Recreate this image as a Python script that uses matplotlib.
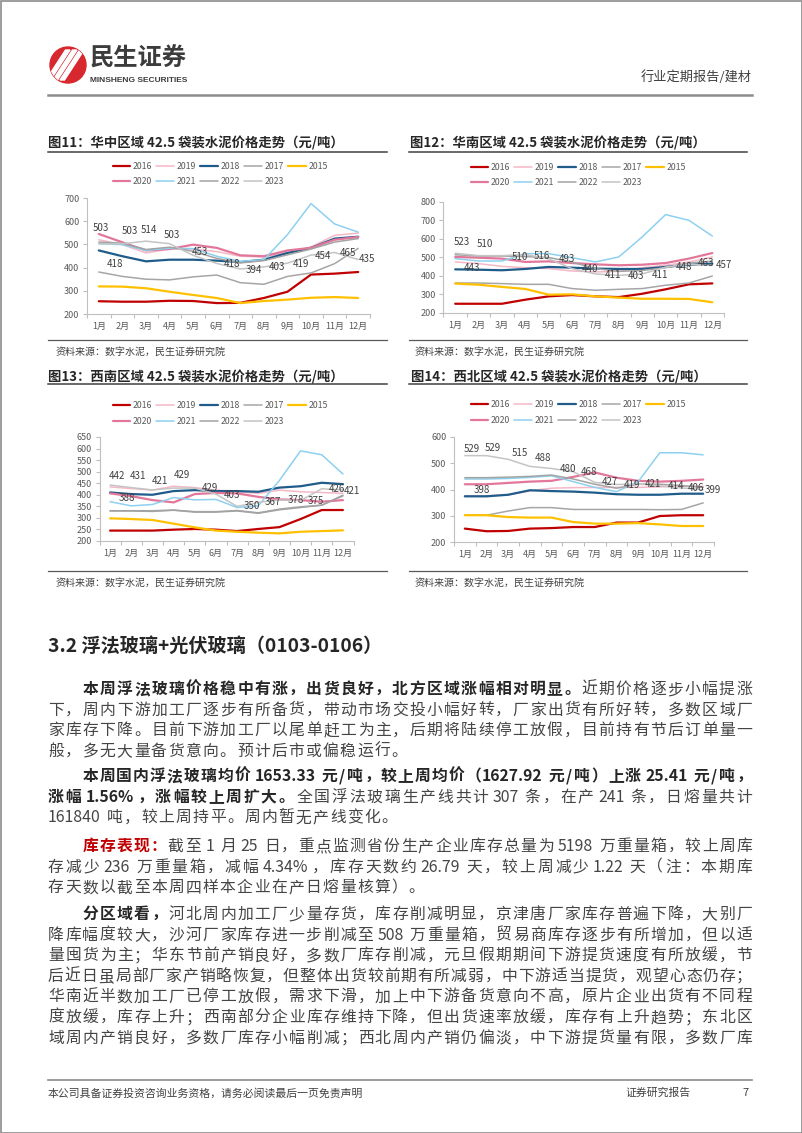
import matplotlib
matplotlib.use("Agg")
import matplotlib.pyplot as plt
from matplotlib.patches import Circle, Polygon, Rectangle

plt.rcParams['font.family'] = ['Noto Sans CJK SC', 'DejaVu Sans']

W, H = 802, 1133

months = [str(i) + '月' for i in range(1, 13)]
x = list(range(1, 13))
years = ['2016', '2019', '2018', '2017', '2015', '2020', '2021', '2022', '2023']
legend_order = ['2016', '2020', '2019', '2021', '2018', '2022', '2017', '2023', '2015']
colors = {'2016': '#C00000', '2019': '#F5B8C7', '2018': '#1F5C8A', '2017': '#A6A6A6',
          '2015': '#FFC000', '2020': '#E2779A', '2021': '#8ED0F0', '2022': '#A3A3A3',
          '2023': '#C4C4C4'}
widths = {'2016': 1.6, '2019': 1.1, '2018': 1.6, '2017': 1.1, '2015': 1.6,
          '2020': 1.6, '2021': 1.1, '2022': 1.1, '2023': 1.1}

# 华中
hz_2016 = [255, 253, 253, 257, 256, 247, 248, 269, 296, 370, 374, 381]
hz_2019 = [520, 499, 463, 480, 480, 469, 449, 446, 466, 489, 539, 549]
hz_2018 = [474, 449, 427, 434, 434, 430, 424, 434, 463, 485, 525, 533]
hz_2017 = [381, 362, 350, 347, 360, 368, 335, 328, 362, 377, 417, 483]
hz_2015 = [319, 318, 311, 296, 282, 269, 247, 256, 262, 270, 273, 269]
hz_2020 = [545, 509, 474, 480, 499, 485, 453, 449, 474, 485, 520, 532]
hz_2021 = [503, 499, 474, 483, 482, 449, 427, 434, 542, 676, 588, 553]
hz_2022 = [510, 505, 478, 488, 470, 440, 420, 430, 455, 480, 510, 525]
hz_2023 = [503, 503, 514, 503, 453, 418, 394, 403, 419, 454, 465, 435]
hz_2024 = 418

# 华南
hn_2016 = [250, 250, 250, 272, 290, 297, 290, 286, 304, 328, 355, 360]
hn_2019 = [476, 467, 452, 445, 440, 427, 422, 425, 445, 458, 476, 503]
hn_2018 = [436, 434, 431, 438, 449, 445, 440, 438, 438, 449, 461, 467]
hn_2017 = [362, 362, 359, 355, 355, 332, 323, 328, 332, 350, 362, 400]
hn_2015 = [359, 353, 341, 330, 299, 301, 290, 283, 277, 277, 276, 258]
hn_2020 = [503, 499, 494, 476, 479, 470, 463, 458, 461, 470, 494, 524]
hn_2021 = [494, 481, 481, 521, 521, 499, 476, 503, 611, 732, 701, 616]
hn_2022 = [515, 508, 508, 505, 500, 475, 440, 425, 430, 445, 470, 480]
hn_2023 = [523, 510, 510, 516, 493, 440, 411, 403, 411, 448, 463, 457]
hn_2024 = 443

# 西南
xn_2016 = [245, 245, 245, 249, 252, 249, 243, 252, 260, 295, 334, 334]
xn_2019 = [434, 427, 420, 437, 431, 420, 413, 406, 420, 413, 410, 406]
xn_2018 = [410, 403, 400, 416, 420, 416, 416, 413, 431, 437, 452, 446]
xn_2017 = [331, 331, 331, 334, 327, 327, 332, 322, 338, 348, 355, 395]
xn_2015 = [298, 295, 291, 275, 259, 245, 240, 236, 233, 240, 243, 246]
xn_2020 = [406, 394, 377, 367, 403, 408, 406, 391, 380, 377, 370, 377]
xn_2021 = [370, 352, 358, 388, 378, 380, 345, 352, 462, 590, 573, 490]
xn_2022 = [330, 330, 328, 333, 325, 325, 330, 320, 335, 345, 355, 398]
xn_2023 = [442, 431, 421, 429, 429, 403, 350, 367, 378, 375, 426, 421]
xn_2024 = 388

# 西北
xb_2016 = [251, 241, 242, 251, 253, 257, 257, 274, 274, 299, 302, 302]
xb_2019 = [376, 376, 380, 395, 405, 407, 408, 408, 408, 410, 412, 412]
xb_2018 = [374, 374, 380, 397, 394, 392, 388, 382, 380, 380, 384, 384]
xb_2017 = [302, 302, 318, 331, 331, 324, 324, 324, 324, 323, 324, 349]
xb_2015 = [302, 302, 295, 293, 293, 276, 270, 270, 272, 267, 261, 261]
xb_2020 = [420, 420, 425, 430, 433, 448, 465, 445, 433, 430, 433, 438]
xb_2021 = [440, 440, 442, 446, 452, 430, 408, 392, 430, 540, 540, 532]
xb_2022 = [445, 445, 447, 450, 455, 440, 420, 405, 420, 420, 415, 408]
xb_2023 = [529, 529, 515, 488, 480, 468, 427, 419, 421, 414, 406, 399]
xb_2024 = 398

# label offsets in pixels (12 months of 2023, then Jan 2024)
hz_offs = [(2, 16), (8, 13), (3, 11), (2, 9), (7, 3), (15, -1), (14, -1), (13, 0),
           (13, -1), (12, -1), (13, 0), (9, 0), (16, -1)]
hn_offs = [(7, 11), (6, 12), (18, -1), (17, -1), (18, 0), (18, 0), (18, -1), (17, -1),
           (18, -1), (18, 0), (17, 1), (12, 0), (17, 0)]
xn_offs = [(7, 9), (7, 12), (8, 9), (8, 13), (15, 0), (16, -1), (15, 0), (15, 0),
           (16, 0), (15, 0), (15, 0), (9, -1), (17, 0)]
xb_offs = [(7, 7), (6, 8), (12, 6), (13, 8), (16, -1), (16, 0), (15, 0), (15, 0),
           (15, 0), (16, 0), (15, 0), (10, 0), (17, 0)]


def series(prefix):
    g = globals()
    return {y: g[prefix + '_' + y] for y in years}


charts = [
    dict(title='图11：华中区域 42.5 袋装水泥价格走势（元/吨）', data=series('hz'), jan=hz_2024,
         offs=hz_offs, ylim=(200, 700), step=100, box=(87, 198, 370, 314), leg=(220, 174),
         tx=48, ty=143, rule=(48, 387, 152), src=(56, 352), srule=(48, 387, 340)),
    dict(title='图12：华南区域 42.5 袋装水泥价格走势（元/吨）', data=series('hn'), jan=hn_2024,
         offs=hn_offs, ylim=(200, 800), step=100, box=(443.5, 202, 724, 313), leg=(578, 175),
         tx=410, ty=143, rule=(409, 747, 152), src=(415, 352), srule=(409, 747, 340)),
    dict(title='图13：西南区域 42.5 袋装水泥价格走势（元/吨）', data=series('xn'), jan=xn_2024,
         offs=xn_offs, ylim=(200, 650), step=50, box=(99.5, 437, 353.5, 541), leg=(220, 413.5),
         tx=48, ty=377, rule=(48, 387, 384), src=(56, 583), srule=(48, 387, 571)),
    dict(title='图14：西北区域 42.5 袋装水泥价格走势（元/吨）', data=series('xb'), jan=xb_2024,
         offs=xb_offs, ylim=(200, 600), step=100, box=(454, 437, 714, 542), leg=(578, 412.5),
         tx=411, ty=377, rule=(409, 747, 384), src=(415, 583), srule=(409, 747, 571)),
]

source_text = '资料来源：数字水泥，民生证券研究院'

fig = plt.figure(figsize=(W / 100, H / 100), dpi=100)
fig.patch.set_facecolor('white')
page = fig.add_axes([0, 0, 1, 1])
page.set_xlim(0, W)
page.set_ylim(H, 0)
page.axis('off')

# page frame
page.add_patch(Rectangle((0.5, 0.5), W - 1, H - 1, fill=False, ec='#8c8c8c', lw=1.2, clip_on=False))

# logo
logo = Circle((68, 65), 18, color='#D7282F')
page.add_patch(logo)
for off in (-7, 0, 7):
    p = Polygon([(53 + off, 80), (57.5 + off, 80), (77 + off, 50), (72.5 + off, 50)],
                closed=True, color='white')
    page.add_patch(p)
    p.set_clip_path(logo)
page.text(90, 59, '民生证券', fontsize=17.5, fontweight='bold', color='#3c3c3c', va='center', ha='left')
page.text(90, 80, 'MINSHENG SECURITIES', fontsize=6, fontweight='bold', family='Liberation Sans',
          color='#3c3c3c', va='center', ha='left')
page.text(752, 77, '行业定期报告/建材', fontsize=9.5, color='#404040', va='center', ha='right')
page.plot([48, 752], [95, 95], color='#8c8c8c', lw=1.8)

# charts
for c in charts:
    page.text(c['tx'], c['ty'], c['title'], fontsize=9.6, fontweight='bold', color='#262626',
              va='center', ha='left')
    r = c['rule']
    page.plot([r[0], r[1]], [r[2], r[2]], color='#404040', lw=1.1)
    r = c['srule']
    page.plot([r[0], r[1]], [r[2], r[2]], color='#595959', lw=0.9)
    page.text(c['src'][0], c['src'][1], source_text, fontsize=7.2, color='#404040', va='center', ha='left')

    l, t, rr, b = c['box']
    ax = fig.add_axes([l / W, 1 - b / H, (rr - l) / W, (b - t) / H])
    ax.patch.set_alpha(0)
    lines = {}
    for y in years:
        ln, = ax.plot(x, c['data'][y], color=colors[y], lw=widths[y], solid_joinstyle='round',
                      solid_capstyle='round', label=y)
        lines[y] = ln
    vals = c['data']['2023']
    for i, v in enumerate(vals):
        dx, dy = c['offs'][i]
        ax.annotate(str(v), (x[i], v), xytext=(dx, dy), textcoords='offset pixels', ha='center',
                    va='center', fontsize=7, color='#404040', annotation_clip=False)
    dx, dy = c['offs'][12]
    ax.annotate(str(c['jan']), (x[0], c['jan']), xytext=(dx, dy), textcoords='offset pixels',
                ha='center', va='center', fontsize=7, color='#404040', annotation_clip=False)

    lo, hi = c['ylim']
    ax.set_xlim(0.5, 12.5)
    ax.set_ylim(lo, hi)
    ax.set_yticks(list(range(lo, hi + 1, c['step'])))
    ax.set_xticks(x)
    ax.set_xticklabels(months)
    ax.set_xticks([i + 0.5 for i in range(13)], minor=True)
    for s in ('top', 'right'):
        ax.spines[s].set_visible(False)
    for s in ('left', 'bottom'):
        ax.spines[s].set_color('#BFBFBF')
        ax.spines[s].set_linewidth(0.8)
    ax.tick_params(axis='x', which='major', length=0, pad=5.5, labelsize=6.5, labelcolor='#595959')
    ax.tick_params(axis='x', which='minor', length=3, width=0.8, color='#BFBFBF')
    ax.tick_params(axis='y', length=3, width=0.8, color='#BFBFBF', pad=2.5, labelsize=6.5,
                   labelcolor='#595959')

    ax.legend([lines[y] for y in legend_order], legend_order, ncol=5, loc='center',
              bbox_to_anchor=(c['leg'][0] / W, 1 - c['leg'][1] / H), bbox_transform=fig.transFigure,
              frameon=False, fontsize=6.3, handlelength=2.0, handletextpad=0.3, columnspacing=0.5,
              labelspacing=0.75, borderpad=0, borderaxespad=0, labelcolor='#595959')

# section heading
page.text(48, 646, '3.2 浮法玻璃+光伏玻璃（0103-0106）', fontsize=13.8, fontweight='bold',
          color='#262626', va='center', ha='left')

# body text: glyphs on a character grid, lines justified to the text block
BODY_PT = 11.4
EM = BODY_PT * 100 / 72
LEFT = 48
RIGHT = 752
PITCH = (RIGHT - LEFT) / 41
LS = 20.6
STYLES = {'n': dict(color='#454545', fontweight='normal'),
          'b': dict(color='#262626', fontweight='bold'),
          'r': dict(color='#C00000', fontweight='bold')}

paragraphs = [
    (688, [
        [('本周浮法玻璃价格稳中有涨，出货良好，北方区域涨幅相对明显。', 'b'), ('近期价格逐步小幅提涨', 'n')],
        [('下，周内下游加工厂逐步有所备货，带动市场交投小幅好转，厂家出货有所好转，多数区域厂', 'n')],
        [('家库存下降。目前下游加工厂以尾单赶工为主，后期将陆续停工放假，目前持有节后订单量一', 'n')],
        [('般，多无大量备货意向。预计后市或偏稳运行。', 'n')],
    ], False),
    (775, [
        [('本周国内浮法玻璃均价 1653.33 元/吨，较上周均价（1627.92 元/吨）上涨 25.41 元/吨，', 'b')],
        [('涨幅 1.56%，涨幅较上周扩大。', 'b'), ('全国浮法玻璃生产线共计 307 条，在产 241 条，日熔量共计', 'n')],
        [('161840 吨，较上周持平。周内暂无产线变化。', 'n')],
    ], False),
    (845, [
        [('库存表现：', 'r'), ('截至 1 月 25 日，重点监测省份生产企业库存总量为 5198 万重量箱，较上周库', 'n')],
        [('存减少 236 万重量箱，减幅 4.34%，库存天数约 26.79 天，较上周减少 1.22 天（注：本期库', 'n')],
        [('存天数以截至本周四样本企业在产日熔量核算）。', 'n')],
    ], False),
    (913, [
        [('分区域看，', 'b'), ('河北周内加工厂少量存货，库存削减明显，京津唐厂家库存普遍下降，大别厂', 'n')],
        [('降库幅度较大，沙河厂家库存进一步削减至 508 万重量箱，贸易商库存逐步有所增加，但以适', 'n')],
        [('量囤货为主；华东节前产销良好，多数厂库存削减，元旦假期期间下游提货速度有所放缓，节', 'n')],
        [('后近日虽局部厂家产销略恢复，但整体出货较前期有所减弱，中下游适当提货，观望心态仍存；', 'n')],
        [('华南近半数加工厂已停工放假，需求下滑，加上中下游备货意向不高，原片企业出货有不同程', 'n')],
        [('度放缓，库存上升；西南部分企业库存维持下降，但出货速率放缓，库存有上升趋势；东北区', 'n')],
        [('域周内产销良好，多数厂库存小幅削减；西北周内产销仍偏淡，中下游提货量有限，多数厂库', 'n')],
    ], True),
]

renderer = fig.canvas.get_renderer()


def tokenize(s):
    # CJK characters one by one, ASCII runs together, spaces apart
    out = []
    buf = ''
    for ch in s:
        if ch == ' ' or ord(ch) >= 128:
            if buf:
                out.append((buf, 'a'))
                buf = ''
            out.append((ch, 's' if ch == ' ' else 'c'))
        else:
            buf += ch
    if buf:
        out.append((buf, 'a'))
    return out


def token_width(tok, kind, style):
    if kind == 's':
        return 0.28 * EM
    if kind == 'c':
        return EM
    t = page.text(0, 0, tok, fontsize=BODY_PT, **STYLES[style])
    w = t.get_window_extent(renderer).width
    t.remove()
    return w + 0.1 * EM


def draw_line(segs, yc, indent, justify):
    items = []
    for txt, st in segs:
        for tok, kind in tokenize(txt):
            items.append((tok, kind, st))
    ws = [token_width(tok, kind, st) for tok, kind, st in items]
    # gaps next to a space do not stretch
    gw = [0 if (items[i][1] == 's' or items[i + 1][1] == 's') else 1 for i in range(len(items) - 1)]
    gw.append(0)
    x0 = LEFT + indent * PITCH
    extra = PITCH - EM
    if justify and sum(gw) > 0:
        extra = (RIGHT - x0 - sum(ws)) / sum(gw)
    xx = x0
    yb = yc + 0.38 * EM
    for (tok, kind, st), w, g in zip(items, ws, gw):
        if kind != 's':
            page.text(xx, yb, tok, fontsize=BODY_PT, va='baseline', ha='left', **STYLES[st])
        xx += w + extra * g


for y0, lines_, last_just in paragraphs:
    for i, segs in enumerate(lines_):
        is_last = i == len(lines_) - 1
        draw_line(segs, y0 + i * LS, 2 if i == 0 else 0, (not is_last) or last_just)

# footer
page.plot([48, 752], [1080, 1080], color='#8c8c8c', lw=1.2)
page.text(48, 1093, '本公司具备证券投资咨询业务资格，请务必阅读最后一页免责声明', fontsize=7.8,
          color='#404040', va='center', ha='left')
page.text(625, 1093, '证券研究报告', fontsize=7.8, color='#404040', va='center', ha='left')
page.text(742, 1093, '7', fontsize=8, color='#404040', va='center', ha='left')

fig.savefig('out.png', dpi=100)
